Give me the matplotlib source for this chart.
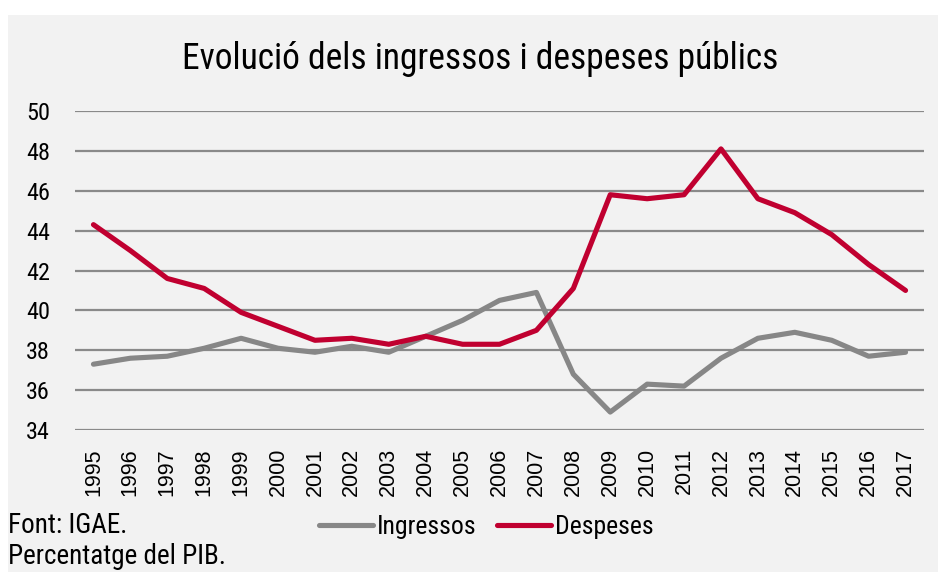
import matplotlib
matplotlib.use("Agg")
import matplotlib.pyplot as plt
from matplotlib.patches import Rectangle

# Dades (percentatge del PIB)
anys = ['1995', '1996', '1997', '1998', '1999', '2000', '2001', '2002', '2003',
        '2004', '2005', '2006', '2007', '2008', '2009', '2010', '2011', '2012',
        '2013', '2014', '2015', '2016', '2017']
ingressos = [37.3, 37.6, 37.7, 38.1, 38.6, 38.1, 37.9, 38.2, 37.9, 38.7, 39.5,
             40.5, 40.9, 36.8, 34.9, 36.3, 36.2, 37.6, 38.6, 38.9, 38.5, 37.7,
             37.9]
despeses = [44.3, 43.0, 41.6, 41.1, 39.9, 39.2, 38.5, 38.6, 38.3, 38.7, 38.3,
            38.3, 39.0, 41.1, 45.8, 45.6, 45.8, 48.1, 45.6, 44.9, 43.8, 42.3,
            41.0]
yticks = [34, 36, 38, 40, 42, 44, 46, 48, 50]

narrow = ['Roboto Condensed', 'Liberation Sans']
gris = '#878787'
vermell = '#c00030'
fons = '#f2f2f2'

fig = plt.figure(figsize=(9.38, 5.72), dpi=100, facecolor='white')
fig.patches.append(Rectangle((8 / 938, 0), 1, (572 - 15) / 572,
                             transform=fig.transFigure, facecolor=fons,
                             edgecolor='none', zorder=-1))

ax = fig.add_axes([75 / 938, 1 - 430 / 572, 849 / 938, 319 / 572])
ax.patch.set_alpha(0)

x = list(range(len(anys)))
ax.plot(x, ingressos, color=gris, lw=3.7, solid_capstyle='round',
        solid_joinstyle='round', label='Ingressos', zorder=3)
ax.plot(x, despeses, color=vermell, lw=3.7, solid_capstyle='round',
        solid_joinstyle='round', label='Despeses', zorder=3)

ax.set_xlim(-0.5, len(anys) - 0.5)
ax.set_ylim(34, 50)
ax.set_yticks(yticks)
ax.set_yticklabels([str(v) for v in yticks], family=narrow, fontsize=17.5)
ax.set_xticks(x)
ax.set_xticklabels(anys, rotation=90, family='Liberation Sans', fontsize=15.5)
ax.tick_params(axis='y', length=0, pad=18)
ax.tick_params(axis='x', length=0, pad=13)
ax.grid(axis='y', color='#8a8a8a', lw=1.6, zorder=1)
ax.set_axisbelow(True)
for s in ax.spines.values():
    s.set_visible(False)

fig.text(480 / 938, 1 - 69 / 572, 'Evolució dels ingressos i despeses públics',
         ha='center', va='baseline', fontsize=25.6, family=narrow)

fig.legend(loc='center', bbox_to_anchor=(486 / 938, 1 - 527 / 572), ncol=2,
           frameon=False, prop={'family': narrow, 'size': 18.5},
           handlelength=2.1, handletextpad=0.15, columnspacing=0.8,
           borderpad=0, borderaxespad=0)

fig.text(8 / 938, 1 - 533 / 572, 'Font: IGAE.', ha='left', va='baseline',
         fontsize=19.5, family=narrow)
fig.text(8 / 938, 1 - 564 / 572, 'Percentatge del PIB.', ha='left',
         va='baseline', fontsize=19.5, family=narrow)

fig.savefig('out.png', dpi=100, facecolor=fig.get_facecolor())
